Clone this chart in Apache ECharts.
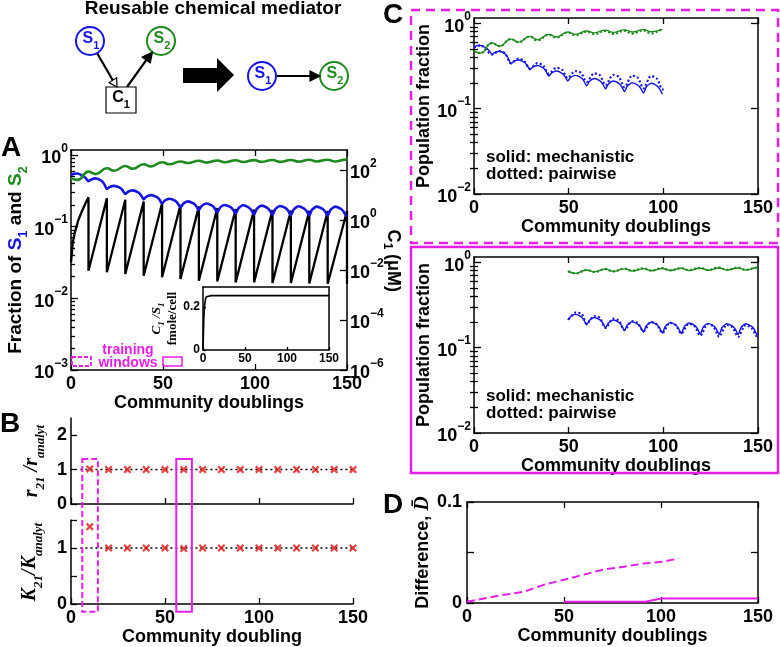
<!DOCTYPE html>
<html>
<head>
<meta charset="utf-8">
<script src="https://cdn.jsdelivr.net/npm/echarts@6/dist/echarts.min.js"></script>
<style>
  html, body { margin: 0; padding: 0; background: #fff; }
  #main { width: 780px; height: 647px; }
</style>
</head>
<body>
<div id="main"></div>
<script>
// ---------- data ----------
// panel A, mechanistic model
const s1X = [0, 1.5, 3.5, 6.5, 8, 9.5, 11, 13.5, 16.5, 18, 19.5, 21, 23.5, 26.5, 28, 29.5, 31, 33.5, 36.5, 38, 39.5,
  41, 43.5, 46.5, 48, 49.5, 51, 53.5, 56.5, 58, 59.5, 61, 63.5, 66.5, 68, 69.5, 71, 73.5, 76.5, 78, 79.5,
  81, 83.5, 86.5, 88, 89.5, 91, 93.5, 96.5, 98, 99.5, 101, 103.5, 106.5, 108, 109.5, 111, 113.5, 116.5, 118, 119.5,
  121, 123.5, 126.5, 128, 129.5, 131, 133.5, 136.5, 138, 139.5, 141, 143.5, 146.5, 148, 149.5, 150];
const s1Frac = [0.52, 0.545, 0.55, 0.51, 0.475, 0.43, 0.455, 0.47, 0.436, 0.394, 0.335, 0.356, 0.37, 0.349, 0.322, 0.285, 0.306, 0.32, 0.3, 0.275, 0.24,
  0.261, 0.275, 0.259, 0.239, 0.21, 0.231, 0.245, 0.23, 0.211, 0.185, 0.209, 0.225, 0.211, 0.194, 0.17, 0.194, 0.21, 0.197, 0.181, 0.158,
  0.184, 0.2, 0.188, 0.173, 0.152, 0.18, 0.198, 0.186, 0.17, 0.148, 0.177, 0.196, 0.184, 0.168, 0.146, 0.175, 0.194, 0.182, 0.167, 0.144,
  0.173, 0.192, 0.18, 0.165, 0.143, 0.172, 0.19, 0.178, 0.164, 0.142, 0.171, 0.19, 0.178, 0.164, 0.142, 0.146];
const s2X = [0, 3.5, 9.5, 13.5, 19.5, 23.5, 29.5, 33.5, 39.5, 43.5, 49.5, 53.5, 59.5, 63.5, 69.5, 73.5, 79.5, 83.5, 89.5, 93.5,
  99.5, 103.5, 109.5, 113.5, 119.5, 123.5, 129.5, 133.5, 139.5, 143.5, 149.5, 150];
const s2Frac = [0.47, 0.448, 0.585, 0.54, 0.65, 0.6, 0.70, 0.64, 0.74, 0.69, 0.79, 0.74, 0.81, 0.77, 0.83, 0.78, 0.835, 0.79, 0.84, 0.795,
  0.845, 0.80, 0.85, 0.80, 0.85, 0.805, 0.855, 0.81, 0.855, 0.81, 0.86, 0.85];
const c1X = [0, 1, 2, 4, 6, 8, 9.5, 9.5, 19.5, 19.5, 29.5, 29.5, 39.5, 39.5, 49.5, 49.5, 59.5, 59.5, 69.5, 69.5, 79.5, 79.5,
  89.5, 89.5, 99.5, 99.5, 109.5, 109.5, 119.5, 119.5, 129.5, 129.5, 139.5, 139.5, 150, 150];
const c1Conc = [0.02, 0.13, 0.3, 1.0, 2.3, 4.9, 8.1, 0.0093, 7.4, 0.0081, 6.5, 0.0069, 5.5, 0.0059, 4.7, 0.0051, 4.1, 0.0044, 3.5, 0.0037, 3.0, 0.0035,
  2.75, 0.0032, 2.6, 0.0032, 2.5, 0.003, 2.4, 0.003, 2.35, 0.0029, 2.3, 0.0028, 2.3, 0.0028];
// inset: C1/S1 (fmole/cell)
const ratioX = [0, 0.5, 1, 2, 3, 4, 6, 10, 150];
const ratioC1S1 = [0, 0.08, 0.15, 0.21, 0.238, 0.248, 0.252, 0.253, 0.253];

// panel B, fitted pairwise parameters
const fitX = [10, 20, 30, 40, 50, 60, 70, 80, 90, 100, 110, 120, 130, 140, 150];
const rRatio = [1.02, 1, 1, 1, 1, 1, 1, 1, 1, 1, 1, 1, 1, 1, 1];
const kRatio = [1.38, 1, 1, 1, 1, 0.99, 1, 1, 1, 1, 1, 1, 1, 1, 1];
const refLineX = [5, 150];
const windowCenters = [10, 60];

// panel C, pairwise model (dotted)
const pwTopS1X = [0, 3.5, 9.5, 13.5, 16.5, 19.5, 23.5, 26.5, 29.5, 33.5, 36.5, 39.5, 43.5, 46.5, 49.5, 53.5, 56.5, 59.5,
  63.5, 66.5, 69.5, 73.5, 76.5, 79.5, 83.5, 86.5, 89.5, 93.5, 96.5, 99.5, 100];
const pwTopS1 = [0.52, 0.55, 0.43, 0.47, 0.44, 0.34, 0.385, 0.36, 0.295, 0.34, 0.32, 0.255, 0.3, 0.285, 0.228, 0.275, 0.262, 0.205,
  0.258, 0.245, 0.188, 0.248, 0.235, 0.178, 0.243, 0.23, 0.172, 0.24, 0.225, 0.168, 0.172];
const pwTopS2X = [0, 3.5, 9.5, 13.5, 19.5, 23.5, 29.5, 33.5, 39.5, 43.5, 49.5, 53.5, 59.5, 63.5, 69.5, 73.5, 79.5, 83.5, 89.5, 93.5, 99.5, 100];
const pwTopS2 = [0.47, 0.448, 0.585, 0.54, 0.65, 0.6, 0.695, 0.63, 0.73, 0.68, 0.775, 0.72, 0.795, 0.745, 0.81, 0.75, 0.815, 0.755, 0.82, 0.76, 0.83, 0.83];
const pwBotS1X = [50, 54, 57, 59.5, 63.5, 66.5, 69.5, 73.5, 76.5, 79.5, 83.5, 86.5, 89.5, 93.5, 96.5, 99.5, 103.5, 106.5, 109.5,
  113.5, 116.5, 119.5, 123.5, 126.5, 129.5, 133.5, 136.5, 139.5, 143.5, 146.5, 149.5, 150];
const pwBotS1 = [0.214, 0.258, 0.245, 0.19, 0.234, 0.222, 0.17, 0.218, 0.206, 0.16, 0.204, 0.193, 0.155, 0.2, 0.188, 0.149, 0.195, 0.183, 0.147,
  0.19, 0.178, 0.138, 0.188, 0.176, 0.134, 0.185, 0.173, 0.134, 0.183, 0.171, 0.136, 0.138];
const pwBotS2X = [50, 54, 59.5, 63.5, 69.5, 73.5, 79.5, 83.5, 89.5, 93.5, 99.5, 103.5, 109.5, 113.5, 119.5, 123.5, 129.5, 133.5, 139.5, 143.5, 149.5, 150];
const pwBotS2 = [0.78, 0.74, 0.81, 0.77, 0.83, 0.78, 0.84, 0.795, 0.845, 0.80, 0.85, 0.805, 0.85, 0.81, 0.86, 0.81, 0.865, 0.815, 0.865, 0.815, 0.865, 0.86];

// panel D, difference between models
const diffTopX = [0, 15.5, 29, 39.5, 50, 60, 70, 81, 91, 101, 109];
const diffTop = [0.0013, 0.007, 0.011, 0.018, 0.023, 0.028, 0.033, 0.036, 0.039, 0.041, 0.044];
const diffBotX = [50, 92, 100, 150];
const diffBot = [0.0013, 0.0013, 0.0045, 0.0045];

// tick values
const xTicks = [0, 50, 100, 150];
const aDecades = [0.001, 0.01, 0.1, 1];
const c1Decades = [1e-6, 1e-4, 1e-2, 1, 100];
const cDecades = [0.01, 0.1, 1];

// ---------- styling ----------
const FONT = '"Liberation Sans", Arial, sans-serif';
const SERIF = '"Liberation Serif", "Times New Roman", serif';
const BLUE = '#1616e0', GREEN = '#1f8a1f', MAGENTA = '#e61fe6', RED = '#e01414';

const toPairs = (xs, ys) => xs.map((x, i) => [x, ys[i]]);
const within = (pts, lo, hi) => pts.filter(p => p[0] >= lo && p[0] <= hi);
function minorTicks(lo, hi) {
  const out = [];
  for (let e = lo; e < hi; e++) for (let m = 2; m <= 9; m++) out.push(m * Math.pow(10, e));
  return out;
}

const grid = [], xAxis = [], yAxis = [], series = [];
const addGrid = g => grid.push(g) - 1;
const addX = a => xAxis.push(a) - 1;
const addY = a => yAxis.push(a) - 1;

const axLine = () => ({ show: true, onZero: false, lineStyle: { color: '#000', width: 1.5 } });
const ticks = (len, vals) => {
  const t = { show: true, inside: true, length: len, lineStyle: { color: '#000', width: 1.3 } };
  if (vals) t.customValues = vals;
  return t;
};
const lbl = (size, extra) => Object.assign({ color: '#000', fontFamily: FONT, fontWeight: 'bold', fontSize: size }, extra || {});
const nameStyle = (size, rich) => ({ color: '#000', fontFamily: FONT, fontWeight: 'bold', fontSize: size, rich: rich || {} });

const decadeRich = {
  b: { fontFamily: FONT, fontWeight: 'bold', fontSize: 18, color: '#000', padding: [7, 0, 0, 0], verticalAlign: 'bottom' },
  s: { fontFamily: FONT, fontWeight: 'bold', fontSize: 12, color: '#000', verticalAlign: 'top' }
};
function decadeLabel(v) {
  const e = Math.round(Math.log10(v));
  return '{b|10}{s|' + (e < 0 ? '\u2212' + (-e) : String(e)) + '}';
}

function xAx(gi, pos, extra) {
  return addX(Object.assign({
    gridIndex: gi, type: 'value', position: pos, min: 0, max: 150, interval: 50,
    axisLine: axLine(), axisTick: ticks(6), axisLabel: { show: false }, splitLine: { show: false }
  }, extra || {}));
}
function yAx(gi, pos, extra) {
  return addY(Object.assign({
    gridIndex: gi, type: 'value', position: pos,
    axisLine: axLine(), axisLabel: { show: false }, splitLine: { show: false }
  }, extra || {}));
}
function line(xi, yi, data, color, width, extra) {
  return Object.assign({
    type: 'line', xAxisIndex: xi, yAxisIndex: yi, data, symbol: 'none', showSymbol: false,
    lineStyle: { color, width }, silent: true, z: 3
  }, extra || {});
}

const bottomX = (gi, name, gap) => xAx(gi, 'bottom', {
  axisLabel: lbl(18, { margin: 5 }),
  name, nameLocation: 'middle', nameGap: gap, nameTextStyle: nameStyle(18)
});

// ---------- panel A ----------
const gA = addGrid({ left: 71, top: 150, width: 276, height: 220 });
const xA = bottomX(gA, 'Community doublings', 20);
xAx(gA, 'top');
const yA = yAx(gA, 'left', {
  type: 'log', min: 0.001, max: 1.17,
  axisTick: ticks(7, aDecades),
  axisLabel: { customValues: aDecades, formatter: decadeLabel, rich: decadeRich, margin: 3 },
  name: '{t|Fraction of }{b|S}{bs|1}{t| and }{g|S}{gs|2}',
  nameLocation: 'middle', nameGap: 25,
  nameTextStyle: nameStyle(19, {
    t: { fontFamily: FONT, fontWeight: 'bold', fontSize: 19, color: '#000', padding: [0, 0, 5, 0], verticalAlign: 'bottom' },
    b: { fontFamily: FONT, fontWeight: 'bold', fontSize: 19, color: BLUE, padding: [0, 0, 5, 0], verticalAlign: 'bottom' },
    bs: { fontFamily: FONT, fontWeight: 'bold', fontSize: 13, color: BLUE, verticalAlign: 'bottom' },
    g: { fontFamily: FONT, fontWeight: 'bold', fontSize: 19, color: GREEN, padding: [0, 0, 5, 0], verticalAlign: 'bottom' },
    gs: { fontFamily: FONT, fontWeight: 'bold', fontSize: 13, color: GREEN, verticalAlign: 'bottom' }
  })
});
yAx(gA, 'left', { type: 'log', min: 0.001, max: 1.17, axisLine: { show: false }, axisTick: ticks(4, minorTicks(-3, 0)) });
const yAr = yAx(gA, 'right', {
  type: 'log', min: 1e-6, max: 631,
  axisTick: ticks(7, c1Decades),
  axisLabel: { customValues: c1Decades, formatter: decadeLabel, rich: decadeRich, margin: 3 }
});
series.push(line(xA, yAr, toPairs(c1X, c1Conc), '#000', 2.3, { z: 2 }));
series.push(line(xA, yA, toPairs(s1X, s1Frac), BLUE, 2.6, { smooth: 0.2 }));
series.push(line(xA, yA, toPairs(s2X, s2Frac), GREEN, 2.6, { smooth: 0.5 }));

// inset
const gI = addGrid({ left: 203, top: 287, width: 126, height: 63, show: true, backgroundColor: '#fff', borderWidth: 0, z: 10 });
const xI = xAx(gI, 'bottom', { z: 11, axisTick: ticks(3), axisLabel: lbl(12, { margin: 3 }) });
xAx(gI, 'top', { z: 11, axisTick: { show: false } });
const yI = yAx(gI, 'left', {
  z: 11, min: 0, max: 0.293,
  axisTick: ticks(3, [0, 0.2]),
  axisLabel: lbl(12, { customValues: [0, 0.2], margin: 3 }),
  name: '{i|C}{s|1}{i| /S}{s|1}\n{f|fmole/cell}', nameLocation: 'middle', nameGap: 6,
  nameTextStyle: nameStyle(13, {
    i: { fontFamily: SERIF, fontStyle: 'italic', fontWeight: 'bold', fontSize: 13, color: '#000', padding: [0, 0, 3, 0], verticalAlign: 'bottom' },
    s: { fontFamily: SERIF, fontStyle: 'italic', fontWeight: 'bold', fontSize: 9, color: '#000', verticalAlign: 'bottom' },
    f: { fontFamily: SERIF, fontWeight: 'bold', fontSize: 13, color: '#000' }
  })
});
yAx(gI, 'right', { z: 11, min: 0, max: 0.293, axisTick: { show: false } });
series.push(line(xI, yI, toPairs(ratioX, ratioC1S1), '#000', 1.6, { z: 12 }));

// ---------- panel B ----------
const bRich = {
  i: { fontFamily: SERIF, fontStyle: 'italic', fontSize: 20, color: '#000', padding: [0, 0, 5, 0], verticalAlign: 'bottom' },
  s: { fontFamily: SERIF, fontStyle: 'italic', fontSize: 13, color: '#000', verticalAlign: 'bottom' }
};
const crossPath = 'path://M2,0L5,3L8,0L10,2L7,5L10,8L8,10L5,7L2,10L0,8L3,5L0,2Z';
const gB1 = addGrid({ left: 71, top: 418, width: 282, height: 86 });
const xB1 = xAx(gB1, 'bottom');
const yB1 = yAx(gB1, 'left', {
  min: 0, max: 2.5,
  axisTick: ticks(6, [0, 1, 2]),
  axisLabel: lbl(18, { customValues: [0, 1, 2], margin: 4 }),
  name: '{i|r}{s|21}{i| /r}{s|analyt}', nameLocation: 'middle', nameGap: 24, nameTextStyle: nameStyle(20, bRich)
});
const gB2 = addGrid({ left: 71, top: 520, width: 282, height: 84 });
const xB2 = bottomX(gB2, 'Community doubling', 22);
const yB2 = yAx(gB2, 'left', {
  min: 0, max: 1.5,
  axisTick: ticks(6, [0, 0.5, 1, 1.5]),
  axisLabel: lbl(18, { customValues: [0, 1], margin: 4 }),
  name: '{i|K}{s|21}{i|/K}{s|analyt}', nameLocation: 'middle', nameGap: 26, nameTextStyle: nameStyle(20, bRich)
});
const refLine = refLineX.map(x => [x, 1]);
[[xB1, yB1, rRatio], [xB2, yB2, kRatio]].forEach(([xi, yi, vals]) => {
  series.push(line(xi, yi, refLine, '#000', 1.5, { lineStyle: { color: '#000', width: 1.5, type: [2, 3] }, z: 2 }));
  series.push({
    type: 'scatter', xAxisIndex: xi, yAxisIndex: yi, data: toPairs(fitX, vals),
    symbol: crossPath, symbolSize: 8, itemStyle: { color: RED }, silent: true, z: 4
  });
});

// ---------- panel C ----------
function panelC(top, mechLo, mechHi, pwS1, pwS2, titleGap) {
  const g = addGrid({ left: 474, top, width: 284, height: 176 });
  const xi = bottomX(g, 'Community doublings', titleGap);
  xAx(g, 'top');
  const yi = yAx(g, 'left', {
    type: 'log', min: 0.01, max: 1.15,
    axisTick: ticks(7, cDecades),
    axisLabel: { customValues: cDecades, formatter: decadeLabel, rich: decadeRich, margin: 3 },
    name: 'Population fraction', nameLocation: 'middle', nameGap: 40, nameTextStyle: nameStyle(18)
  });
  yAx(g, 'left', { type: 'log', min: 0.01, max: 1.15, axisLine: { show: false }, axisTick: ticks(4, minorTicks(-2, 0)) });
  yAx(g, 'right', { type: 'log', min: 0.01, max: 1.15, axisTick: ticks(7, cDecades) });
  yAx(g, 'right', { type: 'log', min: 0.01, max: 1.15, axisLine: { show: false }, axisTick: ticks(4, minorTicks(-2, 0)) });
  const dot = { type: [2, 2.2] };
  series.push(line(xi, yi, within(toPairs(s1X, s1Frac), mechLo, mechHi), BLUE, 1.4, { smooth: 0.2 }));
  series.push(line(xi, yi, within(toPairs(s2X, s2Frac), mechLo, mechHi), GREEN, 1.4, { smooth: 0.5 }));
  series.push(line(xi, yi, pwS1, BLUE, 2.2, { smooth: 0.3, lineStyle: Object.assign({ color: BLUE, width: 2.2 }, dot) }));
  series.push(line(xi, yi, pwS2, GREEN, 2.2, { smooth: 0.5, lineStyle: Object.assign({ color: GREEN, width: 2.2 }, dot) }));
}
panelC(18, 0, 100, toPairs(pwTopS1X, pwTopS1), toPairs(pwTopS2X, pwTopS2), 21);
panelC(257, 49.5, 150, toPairs(pwBotS1X, pwBotS1), toPairs(pwBotS2X, pwBotS2), 17);

// ---------- panel D ----------
const gD = addGrid({ left: 467, top: 502, width: 291, height: 101 });
const xD = bottomX(gD, 'Community doublings', 20);
xAx(gD, 'top');
const yD = yAx(gD, 'left', {
  min: 0, max: 0.1,
  axisTick: ticks(7, [0, 0.05, 0.1]),
  axisLabel: lbl(18, { customValues: [0, 0.1], margin: 5 }),
  name: '{b|Difference, }{i|D\u0304}', nameLocation: 'middle', nameGap: 30,
  nameTextStyle: nameStyle(18, {
    b: { fontFamily: FONT, fontWeight: 'bold', fontSize: 18, color: '#000' },
    i: { fontFamily: SERIF, fontStyle: 'italic', fontSize: 20, color: '#000' }
  })
});
yAx(gD, 'right', { min: 0, max: 0.1, axisTick: ticks(7, [0.05]) });
series.push(line(xD, yD, toPairs(diffTopX, diffTop), MAGENTA, 2, { lineStyle: { color: MAGENTA, width: 2, type: [8, 4] } }));
series.push(line(xD, yD, toPairs(diffBotX, diffBot), MAGENTA, 2));

const chart = echarts.init(document.getElementById('main'), null, { renderer: 'canvas' });
chart.setOption({ animation: false, backgroundColor: '#fff', grid, xAxis, yAxis, series });

// ---------- annotations ----------
const gfx = [];
function text(x, y, str, style, extra) {
  gfx.push(Object.assign({ type: 'text', x, y, silent: true, z: 50, style: Object.assign({
    text: str, fontFamily: FONT, fontWeight: 'bold', fontSize: 18, fill: '#000', align: 'center', verticalAlign: 'middle'
  }, style || {}) }, extra || {}));
}
const subRich = (color, big, small) => ({
  m: { fontFamily: FONT, fontWeight: 'bold', fontSize: big, fill: color, padding: [0, 0, 4, 0], verticalAlign: 'bottom' },
  s: { fontFamily: FONT, fontWeight: 'bold', fontSize: small, fill: color, verticalAlign: 'bottom' }
});
function circleNode(cx, cy, color, idx) {
  gfx.push({ type: 'circle', silent: true, z: 50, shape: { cx, cy, r: 14 }, style: { fill: '#fff', stroke: color, lineWidth: 2 } });
  text(cx + 1, cy, '{m|S}{s|' + idx + '}', { rich: subRich(color, 16, 11) });
}
function seg(x1, y1, x2, y2, w) {
  gfx.push({ type: 'line', silent: true, z: 50, shape: { x1, y1, x2, y2 }, style: { stroke: '#000', lineWidth: w } });
}
function poly(points, fill) {
  gfx.push({ type: 'polygon', silent: true, z: 51, shape: { points }, style: { fill, stroke: '#000', lineWidth: 1.2 } });
}

// schematic
text(213, 9, 'Reusable chemical mediator', { fontSize: 19 });
seg(97, 53, 112.8, 80.2, 2.2);
poly([[117, 87], [109, 82.6], [116.6, 77.8]], '#fff');
seg(127, 87, 146.2, 60.1, 2.2);
poly([[152.5, 52], [150.3, 63], [142.2, 57.2]], '#000');
gfx.push({ type: 'rect', silent: true, z: 50, shape: { x: 106, y: 87, width: 30, height: 26 }, style: { fill: '#fff', stroke: '#000', lineWidth: 1.2 } });
text(121, 100, '{m|C}{s|1}', { rich: subRich('#000', 16, 11) });
circleNode(90, 41, BLUE, 1);
circleNode(161, 41, GREEN, 2);
gfx.push({ type: 'polygon', silent: true, z: 50, shape: { points: [[183, 68], [217, 68], [217, 58], [234, 75], [217, 92], [217, 83], [183, 83]] }, style: { fill: '#000' } });
seg(276, 76, 311, 76, 2.2);
poly([[320, 76], [310, 71], [310, 81]], '#000');
circleNode(262, 76, BLUE, 1);
circleNode(334, 76, GREEN, 2);

// right-hand axis title of A, reading downwards (three pieces: C, subscript 1, (μM))
const down = { rotation: -Math.PI / 2 };
text(393, 236, 'C', { fontSize: 18 }, down);
text(387, 246, '1', { fontSize: 12 }, down);
text(393, 273, '(\u03bcM)', { fontSize: 18 }, down);

// panel letters
text(11, 148, 'A', { fontSize: 28 });
text(10, 424, 'B', { fontSize: 28 });
text(393, 15, 'C', { fontSize: 28 });
text(393, 505, 'D', { fontSize: 28 });

// training windows key in A
gfx.push({ type: 'rect', silent: true, z: 50, shape: { x: 72, y: 357, width: 19, height: 9 }, style: { fill: 'none', stroke: MAGENTA, lineWidth: 1.8, lineDash: [4, 2] } });
gfx.push({ type: 'rect', silent: true, z: 50, shape: { x: 163, y: 357, width: 19, height: 9 }, style: { fill: 'none', stroke: MAGENTA, lineWidth: 1.5 } });
text(128, 350, 'training', { fontSize: 14, fill: MAGENTA });
text(128, 363, 'windows', { fontSize: 14, fill: MAGENTA });

// frames around C
gfx.push({ type: 'rect', silent: true, z: 40, shape: { x: 411, y: 10, width: 367, height: 233 }, style: { fill: 'none', stroke: MAGENTA, lineWidth: 2.5, lineDash: [9, 6] } });
gfx.push({ type: 'rect', silent: true, z: 40, shape: { x: 411, y: 247, width: 367, height: 226 }, style: { fill: 'none', stroke: MAGENTA, lineWidth: 2.5 } });
[18, 257].forEach(top => {
  text(486, top + 139, 'solid: mechanistic', { fontSize: 17, align: 'left' });
  text(486, top + 156, 'dotted: pairwise', { fontSize: 17, align: 'left' });
});

// training windows in B, spanning both sub-panels
windowCenters.forEach((c, i) => {
  const tl = chart.convertToPixel({ xAxisIndex: xB1, yAxisIndex: yB1 }, [c - 4, 1.31]);
  const br = chart.convertToPixel({ xAxisIndex: xB2, yAxisIndex: yB2 }, [c + 4.3, -0.14]);
  const style = { fill: 'none', stroke: MAGENTA, lineWidth: 2 };
  if (i === 0) style.lineDash = [6, 3];
  gfx.push({ type: 'rect', silent: true, z: 45, shape: { x: tl[0], y: tl[1], width: br[0] - tl[0], height: br[1] - tl[1] }, style });
});

chart.setOption({ graphic: gfx });
</script>
</body>
</html>
